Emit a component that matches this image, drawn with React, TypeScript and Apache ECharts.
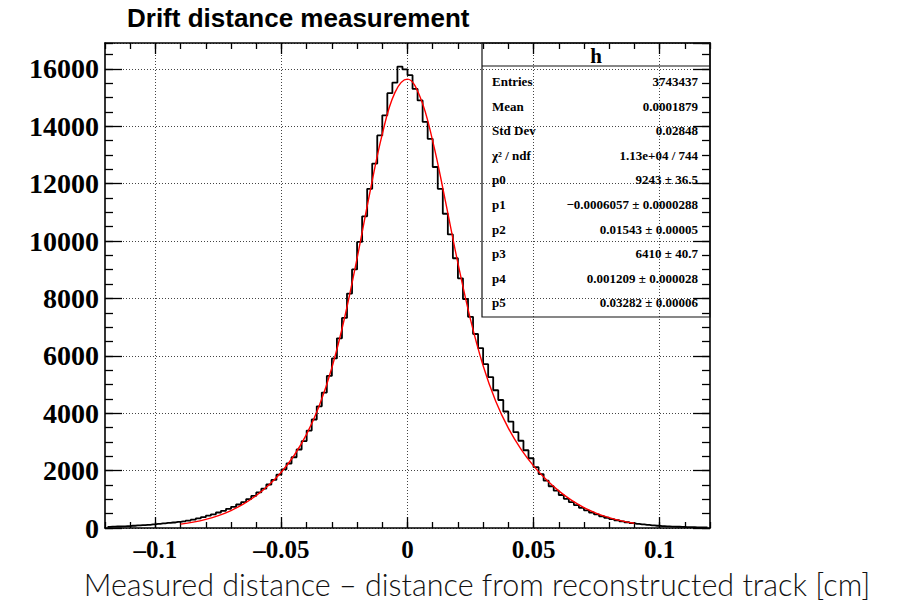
import React, { useEffect, useRef } from "react";
import * as echarts from "echarts";

// ---- data ----
const HIST_MIN = -0.12;
const HIST_BIN_WIDTH = 0.002;
const HIST_COUNTS = [
  40, 45, 52, 60, 68, 78, 88, 100, 112, 128, 142, 158, 176, 192, 212,
  232, 258, 290, 332, 378, 428, 478, 540, 600, 668, 738, 818, 905, 1008, 1118,
  1238, 1372, 1515, 1676, 1858, 2045, 2248, 2465, 2735, 3030, 3395, 3780, 4240, 4720, 5300,
  5910, 6610, 7320, 8170, 9010, 9970, 10860, 11820, 12700, 13680, 14380, 15150, 15520, 16080, 15980,
  15780, 15300, 14900, 14150, 13560, 12580, 11820, 10950, 10230, 9400, 8700, 7980, 7360, 6760, 6270,
  5710, 5260, 4800, 4460, 4060, 3710, 3340, 3040, 2710, 2430, 2120, 1880, 1650, 1455, 1300,
  1150, 1018, 902, 798, 702, 615, 540, 472, 410, 358, 312, 270, 234, 200, 170,
  146, 125, 106, 90, 78, 68, 58, 50, 44, 38, 33, 29, 25, 22, 20,
];

const FIT_X = [
  -0.09, -0.085, -0.08, -0.075, -0.07, -0.065, -0.06, -0.055, -0.05, -0.045,
  -0.04, -0.035, -0.03, -0.025, -0.02, -0.015, -0.01, -0.005, 0, 0.005,
  0.01, 0.015, 0.02, 0.025, 0.03, 0.035, 0.04, 0.045, 0.05, 0.055,
  0.06, 0.065, 0.07, 0.075, 0.08, 0.085, 0.09,
];
const FIT_Y = [
  135, 204, 300, 433, 609, 839, 1132, 1497, 1953, 2526,
  3269, 4258, 5584, 7309, 9398, 11656, 13726, 15172, 15641, 15020,
  13483, 11411, 9230, 7261, 5655, 4418, 3478, 2749, 2166, 1687,
  1293, 970, 713, 512, 359, 246, 165,
];

const X_MIN = -0.12;
const X_MAX = 0.12;
const X_MINOR_STEP = 0.01;
const X_MAJOR_TICKS = [-0.1, -0.05, 0, 0.05, 0.1];
const Y_MIN = 0;
const Y_MAX = 16900;
const Y_MAJOR_STEP = 2000;
const Y_MINOR_STEP = 500;

const TITLE = "Drift distance measurement";
const X_TITLE = "Measured distance – distance from reconstructed track [cm]";
const STATS_NAME = "h";
const STAT_LABELS = ["Entries", "Mean", "Std Dev", "χ² / ndf", "p0", "p1", "p2", "p3", "p4", "p5"];
const STAT_VALUES = [
  "3743437",
  "0.0001879",
  "0.02848",
  "1.13e+04 / 744",
  "9243 ± 36.5",
  "−0.0006057 ± 0.0000288",
  "0.01543 ± 0.00005",
  "6410 ± 40.7",
  "0.001209 ± 0.000028",
  "0.03282 ± 0.00006",
];

// ---- layout ----
const GRID = { left: 105, top: 43, width: 605, height: 485 };
const SERIF = "Liberation Serif";
const gridLine = { type: [1, 2] as any, color: "#444", width: 1 };
const tickLine = { color: "#000", width: 1.3 };

function xLabel(v: number): string {
  const r = Math.round(v * 100) / 100;
  if (Math.abs(r) < 1e-9) return "0";
  return r < 0 ? "–" + String(-r) : String(r);
}

export default function App() {
  const ref = useRef<HTMLDivElement>(null);

  useEffect(() => {
    if (!ref.current) return;
    const chart = echarts.init(ref.current, undefined, { renderer: "svg" });

    const histData = HIST_COUNTS.map((c, i) => [HIST_MIN + (i + 0.5) * HIST_BIN_WIDTH, c]);
    const fitData = FIT_X.map((x, i) => [x, FIT_Y[i]]);

    const boxL = 482;
    const boxT = GRID.top;
    const boxR = GRID.left + GRID.width;
    const boxB = 317;
    const headerB = 66;
    const row0 = 81.5;
    const rowStep = 24.6;

    const statTexts: any[] = [];
    STAT_LABELS.forEach((lab, i) => {
      statTexts.push({
        type: "text",
        x: boxL + 10,
        y: row0 + i * rowStep,
        style: {
          text: lab,
          fontFamily: SERIF,
          fontWeight: "bold",
          fontSize: 13,
          fill: "#000",
          align: "left",
          verticalAlign: "middle",
        },
      });
      statTexts.push({
        type: "text",
        x: boxR - 12,
        y: row0 + i * rowStep,
        style: {
          text: STAT_VALUES[i],
          fontFamily: SERIF,
          fontWeight: "bold",
          fontSize: 13,
          fill: "#000",
          align: "right",
          verticalAlign: "middle",
        },
      });
    });

    const option: any = {
      animation: false,
      backgroundColor: "#fff",
      title: {
        text: TITLE,
        left: 127,
        top: 5,
        padding: 0,
        textStyle: { fontFamily: "Liberation Sans", fontWeight: "bold", fontSize: 26, color: "#000" },
      },
      grid: { ...GRID, containLabel: false },
      xAxis: [
        {
          type: "value", position: "bottom", min: X_MIN, max: X_MAX, interval: X_MINOR_STEP,
          axisLine: { show: true, onZero: false, lineStyle: { color: "#000", width: 1.6 } },
          axisTick: { show: true, inside: true, length: 6, lineStyle: tickLine },
          axisLabel: { show: false }, splitLine: { show: false },
        },
        {
          type: "value", position: "bottom", min: X_MIN, max: X_MAX,
          axisLine: { show: false, onZero: false },
          axisTick: { show: true, inside: true, length: 11, customValues: X_MAJOR_TICKS, lineStyle: tickLine },
          axisLabel: {
            show: true, customValues: X_MAJOR_TICKS, formatter: xLabel, margin: 9,
            fontFamily: SERIF, fontWeight: "bold", fontSize: 25, color: "#000",
          },
          splitLine: { show: true, lineStyle: gridLine },
        },
        {
          type: "value", position: "top", min: X_MIN, max: X_MAX, interval: X_MINOR_STEP,
          axisLine: { show: true, onZero: false, lineStyle: { color: "#000", width: 1.6 } },
          axisTick: { show: true, inside: true, length: 6, lineStyle: tickLine },
          axisLabel: { show: false }, splitLine: { show: false },
        },
        {
          type: "value", position: "top", min: X_MIN, max: X_MAX,
          axisLine: { show: false, onZero: false },
          axisTick: { show: true, inside: true, length: 11, customValues: X_MAJOR_TICKS, lineStyle: tickLine },
          axisLabel: { show: false }, splitLine: { show: false },
        },
      ],
      yAxis: [
        {
          type: "value", position: "left", min: Y_MIN, max: Y_MAX, interval: Y_MAJOR_STEP,
          axisLine: { show: true, onZero: false, lineStyle: { color: "#000", width: 1.6 } },
          axisTick: { show: true, inside: true, length: 17, lineStyle: tickLine },
          axisLabel: {
            show: true, showMaxLabel: false, margin: 6, formatter: (v: number) => String(Math.round(v)),
            fontFamily: SERIF, fontWeight: "bold", fontSize: 28, color: "#000",
          },
          splitLine: { show: true, lineStyle: gridLine },
        },
        {
          type: "value", position: "left", min: Y_MIN, max: Y_MAX, interval: Y_MINOR_STEP,
          axisLine: { show: false, onZero: false },
          axisTick: { show: true, inside: true, length: 8, lineStyle: tickLine },
          axisLabel: { show: false }, splitLine: { show: false },
        },
        {
          type: "value", position: "right", min: Y_MIN, max: Y_MAX, interval: Y_MAJOR_STEP,
          axisLine: { show: true, onZero: false, lineStyle: { color: "#000", width: 1.6 } },
          axisTick: { show: true, inside: true, length: 17, lineStyle: tickLine },
          axisLabel: { show: false }, splitLine: { show: false },
        },
        {
          type: "value", position: "right", min: Y_MIN, max: Y_MAX, interval: Y_MINOR_STEP,
          axisLine: { show: false, onZero: false },
          axisTick: { show: true, inside: true, length: 8, lineStyle: tickLine },
          axisLabel: { show: false }, splitLine: { show: false },
        },
      ],
      series: [
        {
          name: "h",
          type: "line",
          step: "middle",
          xAxisIndex: 0,
          yAxisIndex: 0,
          data: histData,
          symbol: "none",
          lineStyle: { color: "#000", width: 1.8 },
          z: 3,
          silent: true,
        },
        {
          name: "fit",
          type: "line",
          xAxisIndex: 0,
          yAxisIndex: 0,
          data: fitData,
          smooth: 0.4,
          symbol: "none",
          lineStyle: { color: "#ff0000", width: 1.4 },
          z: 4,
          silent: true,
        },
      ],
      graphic: [
        {
          type: "rect",
          shape: { x: boxL, y: boxT, width: boxR - boxL, height: boxB - boxT },
          style: { fill: "none", stroke: "#111", lineWidth: 1.2 },
          z: 10,
        },
        {
          type: "line",
          shape: { x1: boxL, y1: headerB, x2: boxR, y2: headerB },
          style: { stroke: "#111", lineWidth: 1.2 },
          z: 10,
        },
        {
          type: "text",
          x: (boxL + boxR) / 2,
          y: (boxT + headerB) / 2 + 1,
          style: {
            text: STATS_NAME, fontFamily: SERIF, fontWeight: "bold", fontSize: 21,
            fill: "#000", align: "center", verticalAlign: "middle",
          },
          z: 10,
        },
        ...statTexts.map((t) => ({ ...t, z: 10 })),
        {
          type: "text",
          x: 477,
          y: 583.5,
          style: {
            text: X_TITLE, fontFamily: "Lato", fontWeight: 300, fontSize: 30.5,
            lineHeight: 30, fill: "#111", align: "center", verticalAlign: "middle",
          },
        },
      ],
    };

    chart.setOption(option);
    return () => chart.dispose();
  }, []);

  return (
    <div
      ref={ref}
      style={{ position: "fixed", left: 0, top: 0, width: 907, height: 602, background: "#fff" }}
    />
  );
}
